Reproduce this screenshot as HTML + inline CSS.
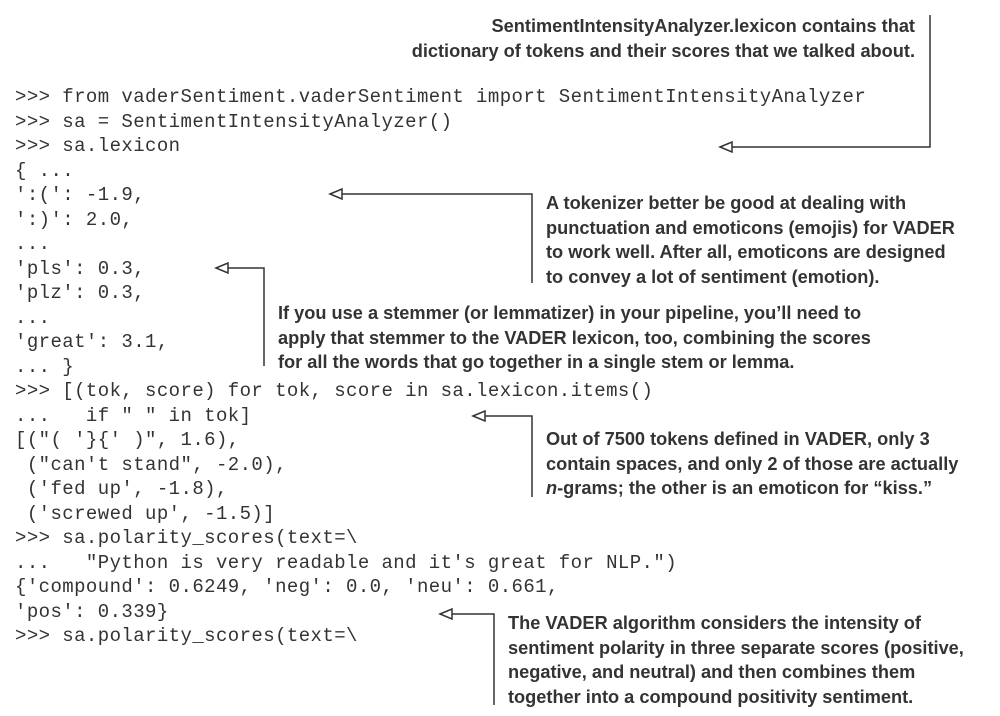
<!DOCTYPE html>
<html><head><meta charset="utf-8"><style>
body{margin:0;width:1000px;height:716px;background:#fff;position:relative;overflow:hidden}
pre{position:absolute;left:15px;top:85px;margin:0;font-family:"Liberation Mono",monospace;font-size:19px;letter-spacing:0.42px;line-height:24.5px;color:#333}
.a{position:absolute;font-family:"Liberation Sans Narrow","Liberation Sans",sans-serif;font-weight:bold;font-size:18.2px;line-height:24.5px;color:#333;white-space:nowrap}
svg{position:absolute;left:0;top:0}
</style></head><body>
<pre>&gt;&gt;&gt; from vaderSentiment.vaderSentiment import SentimentIntensityAnalyzer
&gt;&gt;&gt; sa = SentimentIntensityAnalyzer()
&gt;&gt;&gt; sa.lexicon
{ ...
':(': -1.9,
':)': 2.0,
...
'pls': 0.3,
'plz': 0.3,
...
'great': 3.1,
... }
&gt;&gt;&gt; [(tok, score) for tok, score in sa.lexicon.items()
...   if " " in tok]
[("( '}{' )", 1.6),
 ("can't stand", -2.0),
 ('fed up', -1.8),
 ('screwed up', -1.5)]
&gt;&gt;&gt; sa.polarity_scores(text=\
...   "Python is very readable and it's great for NLP.")
{'compound': 0.6249, 'neg': 0.0, 'neu': 0.661,
'pos': 0.339}
&gt;&gt;&gt; sa.polarity_scores(text=\</pre>
<div class="a" style="right:85px;top:14px;text-align:right">SentimentIntensityAnalyzer.lexicon contains that<br>dictionary of tokens and their scores that we talked about.</div>
<div class="a" style="left:546px;top:191px">A tokenizer better be good at dealing with<br>punctuation and emoticons (emojis) for VADER<br>to work well. After all, emoticons are designed<br>to convey a lot of sentiment (emotion).</div>
<div class="a" style="left:278px;top:301px">If you use a stemmer (or lemmatizer) in your pipeline, you’ll need to<br>apply that stemmer to the VADER lexicon, too, combining the scores<br>for all the words that go together in a single stem or lemma.</div>
<div class="a" style="left:546px;top:427px">Out of 7500 tokens defined in VADER, only 3<br>contain spaces, and only 2 of those are actually<br><i>n</i>-grams; the other is an emoticon for “kiss.”</div>
<div class="a" style="left:508px;top:611px">The VADER algorithm considers the intensity of<br>sentiment polarity in three separate scores (positive,<br>negative, and neutral) and then combines them<br>together into a compound positivity sentiment.</div>
<svg width="1000" height="716" fill="#fff" stroke="#333" stroke-width="1.5">
<polyline fill="none" points="930,15 930,147 732,147"/><polygon points="720,147 732,142 732,152"/>
<polyline fill="none" points="532,283 532,194 342,194"/><polygon points="330,194 342,189 342,199"/>
<polyline fill="none" points="264,366 264,268 228,268"/><polygon points="216,268 228,263 228,273"/>
<polyline fill="none" points="532,497 532,416 485,416"/><polygon points="473,416 485,411 485,421"/>
<polyline fill="none" points="494,705 494,614 452,614"/><polygon points="440,614 452,609 452,619"/>
</svg>
</body></html>
